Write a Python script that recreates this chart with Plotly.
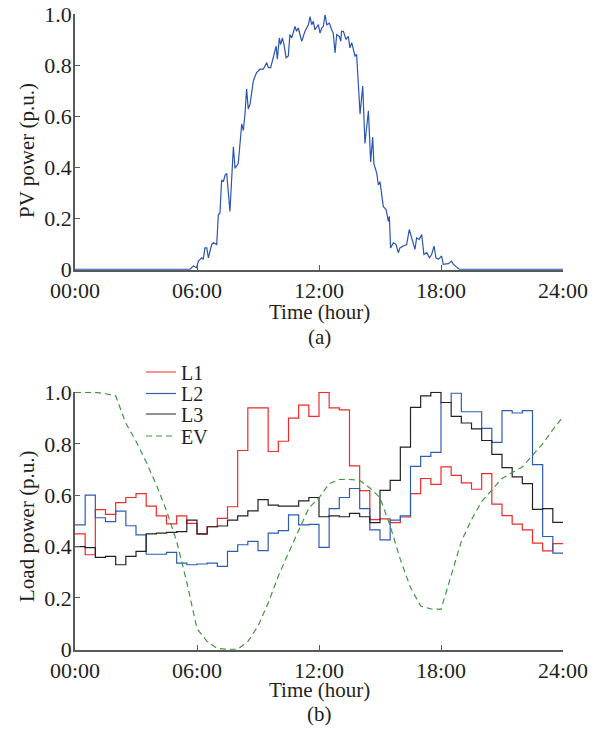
import plotly.graph_objects as go
from plotly.subplots import make_subplots

# ---------------- data ----------------
pv_hours = [0, 5.66, 5.82, 5.98, 6.07, 6.23, 6.31, 6.39, 6.48, 6.56, 6.72, 6.80, 6.97, 7.05, 7.13, 7.21,
            7.30, 7.38, 7.46, 7.62, 7.79, 7.87, 8.03, 8.20, 8.28, 8.36, 8.44, 8.52, 8.61, 8.77, 8.93, 9.10,
            9.26, 9.43, 9.51, 9.62, 9.75, 9.89, 9.95, 10.05, 10.11, 10.20, 10.28, 10.38, 10.49, 10.57,
            10.66, 10.82, 10.90, 10.98, 11.15, 11.31, 11.48, 11.56, 11.64, 11.72, 11.80, 11.97, 12.05,
            12.13, 12.21, 12.30, 12.38, 12.51, 12.62, 12.70, 12.79, 12.87, 13.00, 13.07, 13.11, 13.20,
            13.33, 13.44, 13.52, 13.61, 13.69, 13.77, 13.85, 14.02, 14.15, 14.26, 14.43, 14.54, 14.64,
            14.70, 14.84, 14.92, 15.00, 15.16, 15.30, 15.41, 15.46, 15.52, 15.66, 15.79, 15.90, 15.98,
            16.15, 16.31, 16.44, 16.56, 16.72, 16.80, 16.93, 17.05, 17.16, 17.30, 17.43, 17.54, 17.66,
            17.75, 17.87, 18.03, 18.11, 18.36, 18.52, 18.61, 18.77, 18.89, 24]
pv_values = [0, 0, 0.013, 0.006, 0.032, 0.045, 0.039, 0.084, 0.084, 0.045, 0.097, 0.104, 0.097, 0.214,
             0.221, 0.351, 0.344, 0.370, 0.377, 0.227, 0.481, 0.396, 0.416, 0.571, 0.545, 0.610, 0.708,
             0.630, 0.649, 0.740, 0.773, 0.786, 0.786, 0.812, 0.792, 0.792, 0.831, 0.877, 0.825, 0.909,
             0.883, 0.909, 0.883, 0.831, 0.838, 0.922, 0.909, 0.954, 0.935, 0.948, 0.896, 0.935, 0.961,
             0.993, 0.961, 0.974, 0.941, 0.961, 0.928, 0.948, 0.954, 1.0, 0.961, 0.967, 0.941, 0.928,
             0.850, 0.922, 0.915, 0.896, 0.935, 0.935, 0.903, 0.915, 0.870, 0.890, 0.864, 0.838, 0.844,
             0.610, 0.720, 0.494, 0.623, 0.422, 0.519, 0.415, 0.377, 0.331, 0.344, 0.247, 0.234, 0.188,
             0.208, 0.084, 0.104, 0.097, 0.065, 0.084, 0.091, 0.097, 0.156, 0.123, 0.078, 0.123, 0.117,
             0.136, 0.058, 0.065, 0.045, 0.058, 0.091, 0.045, 0.039, 0.052, 0.019, 0.022, 0.032, 0.019,
             0.006, 0, 0]

# half-hour load steps (00:00, 00:30, ..., 23:30)
load_hours = [i * 0.5 for i in range(48)] + [24]
L1 = [0.449, 0.368, 0.544, 0.525, 0.571, 0.591, 0.606, 0.557, 0.519, 0.488, 0.519, 0.490,
      0.448, 0.477, 0.510, 0.555, 0.774, 0.940, 0.940, 0.770, 0.810, 0.900, 0.951, 0.907,
      1.000, 0.940, 0.932, 0.714, 0.618, 0.505, 0.508, 0.493, 0.515, 0.606, 0.665, 0.642,
      0.710, 0.677, 0.648, 0.623, 0.684, 0.565, 0.520, 0.487, 0.465, 0.413, 0.383, 0.411]
L2 = [0.484, 0.600, 0.512, 0.497, 0.538, 0.481, 0.445, 0.370, 0.370, 0.377, 0.335, 0.329,
      0.332, 0.335, 0.323, 0.381, 0.407, 0.420, 0.384, 0.452, 0.462, 0.523, 0.484, 0.486,
      0.397, 0.548, 0.591, 0.626, 0.548, 0.465, 0.426, 0.503, 0.519, 0.712, 0.751, 0.767,
      0.961, 0.997, 0.925, 0.925, 0.860, 0.806, 0.929, 0.920, 0.929, 0.719, 0.439, 0.374]
L3 = [0.400, 0.396, 0.358, 0.362, 0.329, 0.362, 0.381, 0.449, 0.452, 0.455, 0.458, 0.503,
      0.449, 0.477, 0.480, 0.503, 0.519, 0.539, 0.583, 0.561, 0.557, 0.557, 0.578, 0.591,
      0.516, 0.519, 0.516, 0.529, 0.516, 0.493, 0.619, 0.658, 0.787, 0.942, 0.987, 1.000,
      0.961, 0.907, 0.881, 0.858, 0.813, 0.759, 0.707, 0.671, 0.645, 0.545, 0.548, 0.494]

ev_hours = [i * 0.5 for i in range(49)]
EV = [1.0, 1.0, 1.0, 0.995, 0.987, 0.88, 0.81, 0.73, 0.64, 0.54, 0.42, 0.26,
      0.08, 0.03, 0.003, 0.0, 0.0, 0.03, 0.09, 0.18, 0.285, 0.375, 0.465, 0.55,
      0.59, 0.645, 0.661, 0.661, 0.658, 0.628, 0.59, 0.48, 0.35, 0.24, 0.168, 0.157,
      0.155, 0.29, 0.42, 0.505, 0.575, 0.62, 0.665, 0.688, 0.71, 0.755, 0.8, 0.855, 0.905]

x_tickvals = [0, 6, 12, 18, 24]
x_ticktext = ["00:00", "06:00", "12:00", "18:00", "24:00"]
y_tickvals = [0, 0.2, 0.4, 0.6, 0.8, 1.0]
y_ticktext = ["0", "0.2", "0.4", "0.6", "0.8", "1.0"]

# ---------------- figure ----------------
FONT = "Liberation Serif, Times New Roman, serif"
TXT = "#231f20"
AX = "#595959"
TICK_SIZE = 22
TITLE_SIZE = 21

W, H = 605, 729
L_PX, R_PX, T_PX, B_PX = 75, 563, 14, 650      # plotting area in page pixels
H_PLOT = float(B_PX - T_PX)
W_PLOT = float(R_PX - L_PX)


def py(p):  # page pixel y -> paper fraction
    return (B_PX - p) / H_PLOT


def px(p):  # page pixel x -> paper fraction
    return (p - L_PX) / W_PLOT


fig = make_subplots(rows=2, cols=1, vertical_spacing=0.0)

fig.add_trace(go.Scatter(x=pv_hours, y=pv_values, mode="lines",
                         line=dict(color="#2b55b0", width=1.2), showlegend=False), row=1, col=1)

fig.add_trace(go.Scatter(x=load_hours, y=L1 + [L1[-1]], mode="lines", name="L1", line_shape="hv",
                         legend="legend", line=dict(color="#ee2a2a", width=1.2)), row=2, col=1)
fig.add_trace(go.Scatter(x=load_hours, y=L2 + [L2[-1]], mode="lines", name="L2", line_shape="hv",
                         legend="legend2", line=dict(color="#2d5cb5", width=1.2)), row=2, col=1)
fig.add_trace(go.Scatter(x=load_hours, y=L3 + [L3[-1]], mode="lines", name="L3", line_shape="hv",
                         legend="legend3", line=dict(color="#222222", width=1.2)), row=2, col=1)
fig.add_trace(go.Scatter(x=ev_hours, y=EV, mode="lines", name="EV", legend="legend4",
                         line=dict(color="#3c9a3c", width=1.2, dash="6px,4px")), row=2, col=1)

common_x = dict(range=[0, 24], tickvals=x_tickvals, ticktext=x_ticktext, showline=True,
                linecolor=AX, linewidth=1.5, ticks="inside", ticklen=5, tickcolor=AX, tickwidth=1.2,
                showgrid=False, zeroline=False, automargin=False, ticklabelstandoff=0,
                ticklabeloverflow="allow",
                tickfont=dict(family=FONT, size=TICK_SIZE, color=TXT))
common_y = dict(range=[-0.003, 1.003], tickvals=y_tickvals, ticktext=y_ticktext, showline=True,
                linecolor=AX, linewidth=1.5, ticks="inside", ticklen=5, tickcolor=AX, tickwidth=1.2,
                showgrid=False, zeroline=False, automargin=False, ticklabelstandoff=-3,
                ticklabeloverflow="allow",
                tickfont=dict(family=FONT, size=TICK_SIZE, color=TXT))

fig.update_xaxes(**common_x)
fig.update_yaxes(**common_y)
fig.update_layout(
    xaxis=dict(domain=[0, 1], anchor="y"),
    yaxis=dict(domain=[py(270), 1.0], anchor="x"),
    xaxis2=dict(domain=[0, 1], anchor="y2"),
    yaxis2=dict(domain=[0, py(391.7)], anchor="x2"),
)

leg_common = dict(x=px(141), xanchor="left", yanchor="middle", bgcolor="rgba(0,0,0,0)",
                  font=dict(family=FONT, size=20, color=TXT), itemwidth=30, borderwidth=0)


def label(text, xp, yp, angle=0, size=TITLE_SIZE):
    return dict(text=text, x=px(xp), y=py(yp), xref="paper", yref="paper", showarrow=False,
                textangle=angle, xanchor="center", yanchor="middle",
                font=dict(family=FONT, size=size, color=TXT))


fig.update_layout(
    width=W, height=H,
    margin=dict(l=L_PX, r=W - R_PX, t=T_PX, b=H - B_PX, autoexpand=False),
    paper_bgcolor="white", plot_bgcolor="white",
    font=dict(family=FONT, size=TICK_SIZE, color=TXT),
    hovermode=False,
    legend=dict(y=py(372), **leg_common),
    legend2=dict(y=py(393.5), **leg_common),
    legend3=dict(y=py(414), **leg_common),
    legend4=dict(y=py(436), **leg_common),
    annotations=[
        label("PV power (p.u.)", 27, 151, angle=-90),
        label("Time (hour)", 319, 312),
        label("(a)", 319, 337),
        label("Load power (p.u.)", 27, 526, angle=-90),
        label("Time (hour)", 319, 690),
        label("(b)", 319, 714),
    ],
)

# page body margin removed so the figure sits at the window's top-left corner
fig.write_html("out.html", config={"displayModeBar": False},
               post_script="document.body.style.margin='0px';")
